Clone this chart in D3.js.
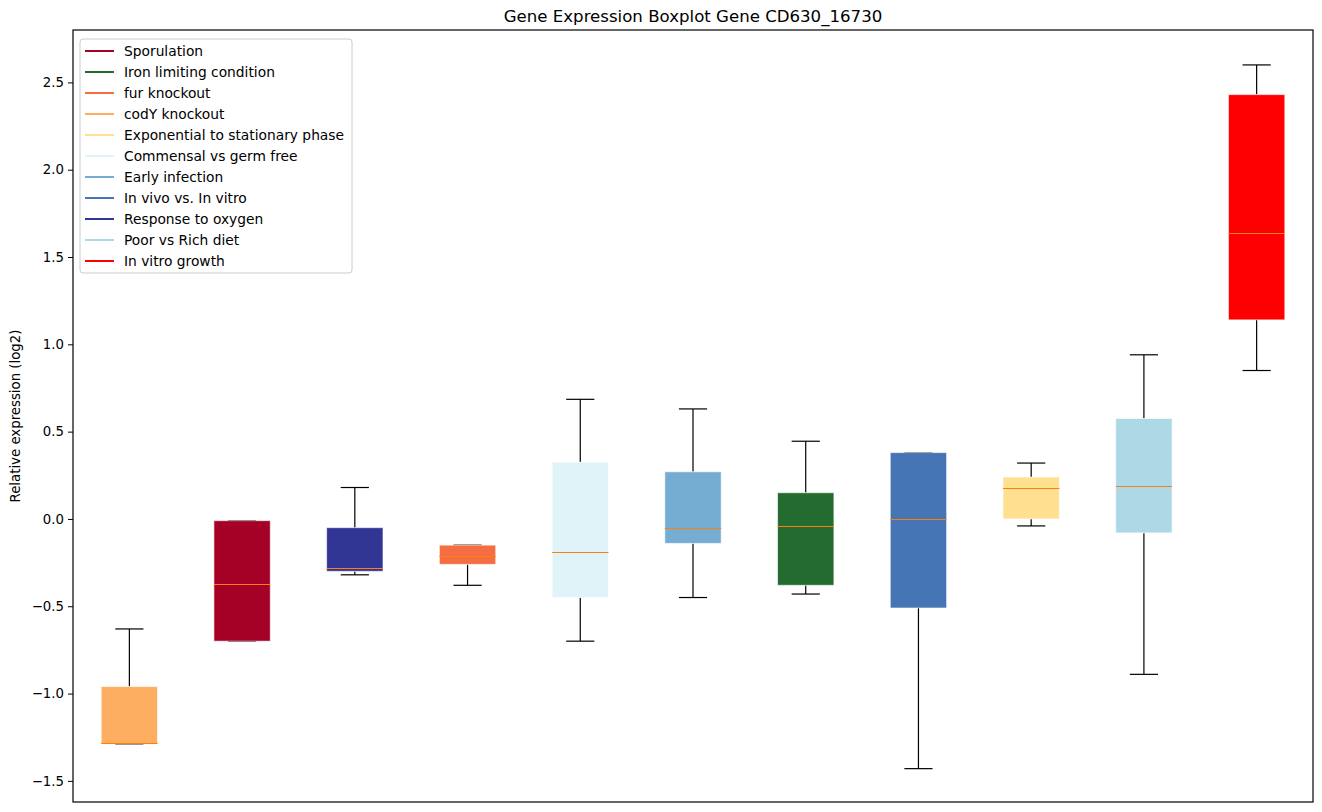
<!DOCTYPE html>
<html>
<head>
<meta charset="utf-8">
<script src="https://cdn.jsdelivr.net/npm/d3@7"></script>
<style>
  body { margin: 0; background: #fff; }
  svg { font-family: "DejaVu Sans", sans-serif; }
</style>
</head>
<body>
<svg id="chart" width="1322" height="812"></svg>
<script>
// legend order
const legendNames = ['Sporulation', 'Iron limiting condition', 'fur knockout', 'codY knockout',
  'Exponential to stationary phase', 'Commensal vs germ free', 'Early infection',
  'In vivo vs. In vitro', 'Response to oxygen', 'Poor vs Rich diet', 'In vitro growth'];
const legendColors = ['#a50026', '#236b2e', '#f46d43', '#fdae61', '#fee090', '#e0f3f8',
  '#74add1', '#4575b4', '#313695', '#add8e6', '#ff0000'];

// boxes, left to right
const boxNames = ['codY knockout', 'Sporulation', 'Response to oxygen', 'fur knockout',
  'Commensal vs germ free', 'Early infection', 'Iron limiting condition', 'In vivo vs. In vitro',
  'Exponential to stationary phase', 'Poor vs Rich diet', 'In vitro growth'];
const whiskerLow = [-1.29, -0.70, -0.32, -0.38, -0.70, -0.45, -0.43, -1.43, -0.04, -0.89, 0.85];
const q1 = [-1.29, -0.70, -0.30, -0.26, -0.45, -0.14, -0.38, -0.51, 0.00, -0.08, 1.14];
const median = [-1.285, -0.37, -0.28, -0.21, -0.19, -0.05, -0.04, 0.00, 0.18, 0.19, 1.635];
const q3 = [-0.96, -0.01, -0.05, -0.15, 0.325, 0.27, 0.15, 0.38, 0.24, 0.575, 2.43];
const whiskerHigh = [-0.63, -0.01, 0.18, -0.15, 0.685, 0.63, 0.445, 0.38, 0.32, 0.94, 2.60];

const yTicks = [-1.5, -1.0, -0.5, 0.0, 0.5, 1.0, 1.5, 2.0, 2.5];

const svg = d3.select('#chart');
const margin = { left: 73, right: 9, top: 30, bottom: 10 };
const width = 1322 - margin.left - margin.right;
const height = 812 - margin.top - margin.bottom;

const color = d3.scaleOrdinal(legendNames, legendColors);

const x = d3.scaleLinear().domain([0.5, boxNames.length + 0.5]).range([0, width]);
const y = d3.scaleLinear().domain([-1.621, 2.8]).range([height, 0]);

const g = svg.append('g').attr('transform', `translate(${margin.left},${margin.top})`);

const unit = x(2) - x(1);
const boxW = unit * 0.5;
const capW = unit * 0.25;

const items = boxNames.map((name, i) => ({
  name, pos: i + 1,
  lo: whiskerLow[i], q1: q1[i], med: median[i], q3: q3[i], hi: whiskerHigh[i]
}));

const box = g.selectAll('g.box').data(items).join('g').attr('class', 'box');

// whiskers
box.append('line')
  .attr('x1', (d) => x(d.pos)).attr('x2', (d) => x(d.pos))
  .attr('y1', (d) => y(d.hi)).attr('y2', (d) => y(d.q3))
  .attr('stroke', '#000').attr('stroke-width', 1.2);
box.append('line')
  .attr('x1', (d) => x(d.pos)).attr('x2', (d) => x(d.pos))
  .attr('y1', (d) => y(d.q1)).attr('y2', (d) => y(d.lo))
  .attr('stroke', '#000').attr('stroke-width', 1.2);
// caps
['hi', 'lo'].forEach((k) => {
  box.append('line')
    .attr('x1', (d) => x(d.pos) - capW / 2).attr('x2', (d) => x(d.pos) + capW / 2)
    .attr('y1', (d) => y(d[k])).attr('y2', (d) => y(d[k]))
    .attr('stroke', '#000').attr('stroke-width', 1.2);
});
// boxes
box.append('rect')
  .attr('x', (d) => x(d.pos) - boxW / 2)
  .attr('y', (d) => y(d.q3))
  .attr('width', boxW)
  .attr('height', (d) => Math.max(1, y(d.q1) - y(d.q3)))
  .attr('fill', (d) => color(d.name))
  .attr('stroke', 'rgba(255,255,255,0.6)')
  .attr('stroke-width', 1);
// medians
box.append('line')
  .attr('x1', (d) => x(d.pos) - boxW / 2).attr('x2', (d) => x(d.pos) + boxW / 2)
  .attr('y1', (d) => Math.round(y(d.med)) + 0.5).attr('y2', (d) => Math.round(y(d.med)) + 0.5)
  .attr('stroke', '#ff7f0e').attr('stroke-width', 1);

// y axis
const yAxis = g.append('g')
  .call(d3.axisLeft(y).tickValues(yTicks).tickSize(5).tickPadding(4)
    .tickFormat((d) => d3.format('.1f')(d).replace('-', '\u2212')));
yAxis.select('.domain').remove();
yAxis.selectAll('text').attr('font-size', 13.3).attr('fill', '#000')
  .attr('font-family', '"DejaVu Sans", sans-serif');
yAxis.selectAll('line').attr('stroke', '#000');

// frame
g.append('rect').attr('width', width).attr('height', height)
  .attr('fill', 'none').attr('stroke', '#000').attr('stroke-width', 1.2);

// title
svg.append('text')
  .attr('x', margin.left + width / 2).attr('y', 22)
  .attr('text-anchor', 'middle').attr('font-size', 16.6)
  .text('Gene Expression Boxplot Gene CD630_16730');

// y label
svg.append('text')
  .attr('transform', `translate(20,${margin.top + height / 2}) rotate(-90)`)
  .attr('text-anchor', 'middle').attr('font-size', 13.3)
  .text('Relative expression (log2)');

// legend
const leg = g.append('g').attr('transform', 'translate(7,9)');
leg.append('rect')
  .attr('width', 272).attr('height', 234).attr('rx', 3)
  .attr('fill', 'rgba(255,255,255,0.8)').attr('stroke', '#ccc');
const row = leg.selectAll('g.row').data(legendNames).join('g')
  .attr('class', 'row')
  .attr('transform', (d, i) => `translate(0,${12 + i * 21})`);
row.append('line')
  .attr('x1', 5).attr('x2', 34).attr('y1', 0).attr('y2', 0)
  .attr('stroke', (d) => color(d)).attr('stroke-width', 2);
row.append('text')
  .attr('x', 44).attr('y', 0).attr('dy', '0.35em')
  .attr('font-size', 13.8).text((d) => d);
</script>
</body>
</html>
